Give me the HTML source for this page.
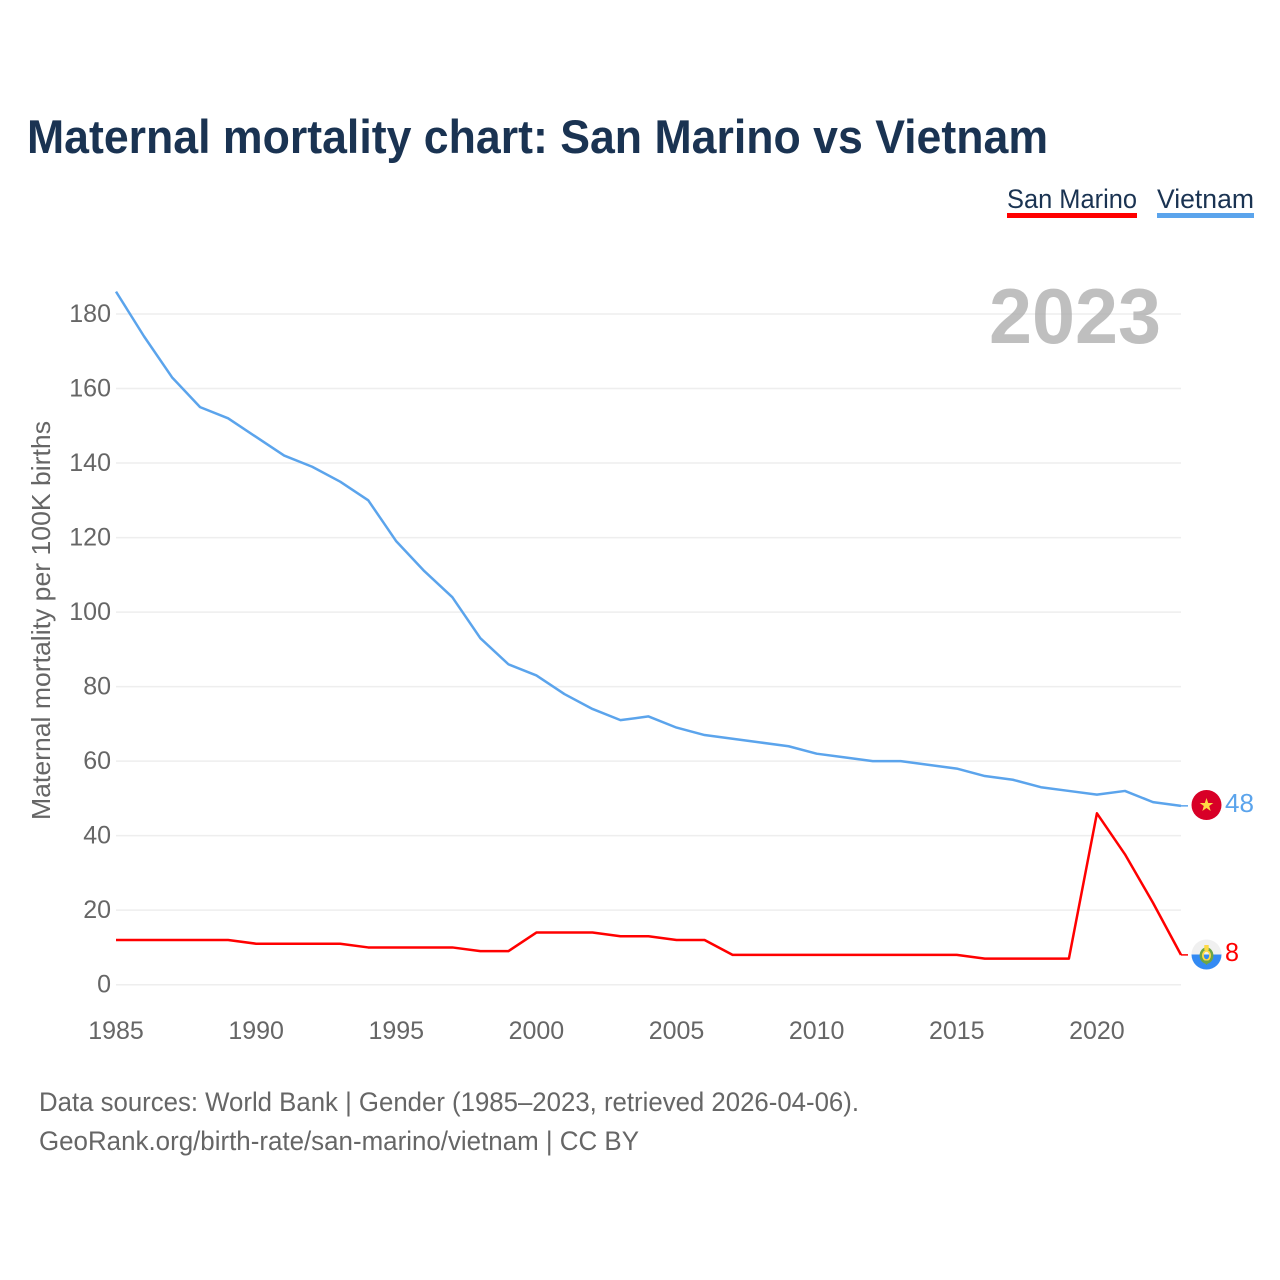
<!DOCTYPE html>
<html>
<head>
<meta charset="utf-8">
<title>Maternal mortality chart: San Marino vs Vietnam</title>
<style>
html,body{margin:0;padding:0;background:#fff;}
svg{display:block;}
text{font-family:"Liberation Sans",sans-serif;}
</style>
</head>
<body>
<svg id="chart" xmlns="http://www.w3.org/2000/svg" width="1280" height="1280" viewBox="0 0 1280 1280">
  <rect width="1280" height="1280" fill="#fff"/>
  <text x="27" y="153" font-size="47" font-weight="700" fill="#1a3352" textLength="1021" lengthAdjust="spacingAndGlyphs">Maternal mortality chart: San Marino vs Vietnam</text>

  <g>
    <text x="1007" y="208" font-size="27" fill="#1a3352" textLength="130" lengthAdjust="spacingAndGlyphs">San Marino</text>
    <rect x="1007" y="213" width="130" height="5" fill="#ff0000"/>
  </g>
  <g>
    <text x="1157" y="208" font-size="27" fill="#1a3352" textLength="97" lengthAdjust="spacingAndGlyphs">Vietnam</text>
    <rect x="1157" y="213" width="97" height="5" fill="#5ba4ec"/>
  </g>

  <g id="grid"></g>
  <g id="yticks"></g>
  <g id="xticks"></g>

  <text transform="translate(50,820) rotate(-90)" font-size="26" fill="#666" textLength="399" lengthAdjust="spacingAndGlyphs">Maternal mortality per 100K births</text>

  <text x="1161" y="343" text-anchor="end" font-size="78" font-weight="700" fill="#a6a6a6" fill-opacity="0.72" textLength="172" lengthAdjust="spacingAndGlyphs">2023</text>

  <g id="series"></g>

  <g id="flag-vn">
    <circle cx="1206.5" cy="805" r="15" fill="#d80027"/>
    <polygon points="1206.5,798 1208.2,803 1213.3,803 1209.2,806 1210.7,811 1206.5,808 1202.3,811 1203.8,806 1199.7,803 1204.8,803" fill="#ffda44"/>
  </g>
  <g id="flag-sm">
    <circle cx="1206.5" cy="954.5" r="15" fill="#f0f0f0"/>
    <path d="M1191.5 954.5 a15 15 0 0 0 30 0 z" fill="#338af3"/>
    <ellipse cx="1206.5" cy="955.5" rx="5.6" ry="6.8" fill="none" stroke="#6da544" stroke-width="2.6"/>
    <ellipse cx="1206.5" cy="955.5" rx="3.6" ry="4.6" fill="none" stroke="#ffda44" stroke-width="1.8"/>
    <rect x="1204.3" y="945" width="4.4" height="5" fill="#ffda44"/>
    <polygon points="1202.5,960.5 1210.5,960.5 1206.5,965" fill="#6da544"/>
  </g>

  <text x="1225" y="812" font-size="26" fill="#5ba4ec" textLength="29" lengthAdjust="spacingAndGlyphs">48</text>
  <text x="1225" y="961" font-size="26" fill="#ff0000" textLength="14" lengthAdjust="spacingAndGlyphs">8</text>

  <text x="39" y="1111" font-size="27" fill="#666" textLength="820" lengthAdjust="spacingAndGlyphs">Data sources: World Bank | Gender (1985–2023, retrieved 2026-04-06).</text>
  <text x="39" y="1150" font-size="27" fill="#666" textLength="600" lengthAdjust="spacingAndGlyphs">GeoRank.org/birth-rate/san-marino/vietnam | CC BY</text>
</svg>
<script>
const years = [1985,1986,1987,1988,1989,1990,1991,1992,1993,1994,1995,1996,1997,1998,1999,2000,2001,2002,2003,2004,2005,2006,2007,2008,2009,2010,2011,2012,2013,2014,2015,2016,2017,2018,2019,2020,2021,2022,2023];
const vietnamValues = [186,174,163,155,152,147,142,139,135,130,119,111,104,93,86,83,78,74,71,72,69,67,66,65,64,62,61,60,60,59,58,56,55,53,52,51,52,49,48];
const sanMarinoValues = [12,12,12,12,12,11,11,11,11,10,10,10,10,9,9,14,14,14,13,13,12,12,8,8,8,8,8,8,8,8,8,7,7,7,7,46,35,22,8];
const yTickValues = [0,20,40,60,80,100,120,140,160,180];
const xTickValues = [1985,1990,1995,2000,2005,2010,2015,2020];

const SVG_NS = 'http://www.w3.org/2000/svg';
function xScale(year) { return 116 + (year - 1985) * (1181 - 116) / (2023 - 1985); }
function yScale(value) { return 984.7 - value * (984.7 - 314) / 180; }

const grid = document.getElementById('grid');
const yticks = document.getElementById('yticks');
const xticks = document.getElementById('xticks');
const series = document.getElementById('series');

yTickValues.forEach(function (v) {
  const line = document.createElementNS(SVG_NS, 'line');
  
  
  line.setAttribute('x1', 116);
  line.setAttribute('x2', 1181);
  line.setAttribute('y1', yScale(v));
  line.setAttribute('y2', yScale(v));
  line.setAttribute('stroke', '#eeeeee');
  line.setAttribute('stroke-width', 1.5);
  grid.appendChild(line);

  const label = document.createElementNS(SVG_NS, 'text');
  
  
  label.setAttribute('x', 111);
  label.setAttribute('y', yScale(v) + 8);
  label.setAttribute('text-anchor', 'end');
  label.setAttribute('font-size', 25);
  label.setAttribute('fill', '#666');
  label.textContent = v;
  yticks.appendChild(label);
});

xTickValues.forEach(function (y) {
  const label = document.createElementNS(SVG_NS, 'text');
  
  
  label.setAttribute('x', xScale(y));
  label.setAttribute('y', 1039);
  label.setAttribute('text-anchor', 'middle');
  label.setAttribute('font-size', 25);
  label.setAttribute('fill', '#666');
  label.textContent = y;
  xticks.appendChild(label);
});

function drawLine(values, color, name) {
  const path = document.createElementNS(SVG_NS, 'path');
  
  
  let d = '';
  values.forEach(function (v, i) {
    d += (i === 0 ? 'M' : 'L') + xScale(years[i]).toFixed(2) + ' ' + yScale(v).toFixed(2) + ' ';
  });
  path.setAttribute('d', d);
  path.setAttribute('fill', 'none');
  path.setAttribute('stroke', color);
  path.setAttribute('stroke-width', 2.5);
  path.setAttribute('stroke-linejoin', 'round');
  series.appendChild(path);

  const last = values[values.length - 1];
  const connector = document.createElementNS(SVG_NS, 'line');
  
  
  connector.setAttribute('x1', xScale(years[years.length - 1]));
  connector.setAttribute('x2', 1188);
  connector.setAttribute('y1', yScale(last));
  connector.setAttribute('y2', yScale(last));
  connector.setAttribute('stroke', color);
  connector.setAttribute('stroke-width', 1.5);
  series.appendChild(connector);
}
drawLine(vietnamValues, '#5ba4ec', 'vietnam-line');
drawLine(sanMarinoValues, '#ff0000', 'san-marino-line');
</script>
</body>
</html>
